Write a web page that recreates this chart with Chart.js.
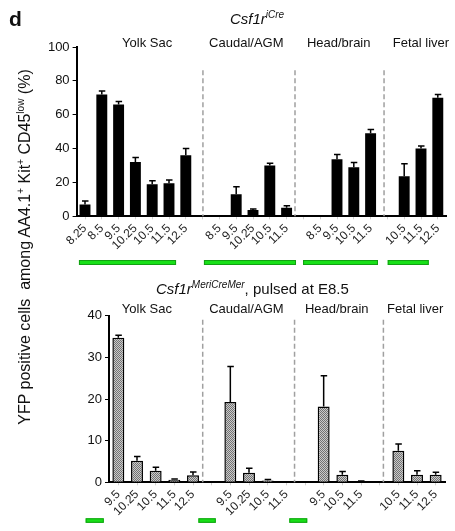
<!DOCTYPE html>
<html>
<head>
<meta charset="utf-8">
<script src="https://cdn.jsdelivr.net/npm/chart.js@4.4.1/dist/chart.umd.min.js"></script>
<style>
  body { margin: 0; background: #fff; }
  #wrap { position: relative; width: 455px; height: 531px; font-family: "Liberation Sans", Arial, sans-serif; color: #111; }
  #topChart { position: absolute; left: 0; top: 0; }
  #bottomChart { position: absolute; left: 0; top: 272px; }
  #panel { position: absolute; left: 9px; top: 8px; font-weight: bold; font-size: 21px; line-height: 21px; }
  #ytitle { position: absolute; left: -185px; top: 237px; width: 420px; height: 20px; line-height: 20px;
            text-align: center; font-size: 16px; white-space: nowrap; transform: rotate(-90deg); }
  #ytitle sup { font-size: 10px; vertical-align: 6px; line-height: 0; }
</style>
</head>
<body>
<div id="wrap">
  <canvas id="topChart" width="455" height="272"></canvas>
  <canvas id="bottomChart" width="455" height="259"></canvas>
  <div id="panel">d</div>
  <div id="ytitle">YFP positive cells &nbsp;among AA4.1<sup>+</sup> Kit<sup>+</sup> CD45<sup>low</sup> (%)</div>
</div>
<script>
// ---- Data: Csf1r iCre (top panel) ----
const topLabels = ['8.25','8.5','9.5','10.25','10.5','11.5','12.5','',
                   '8.5','9.5','10.25','10.5','11.5','',
                   '8.5','9.5','10.5','11.5','',
                   '10.5','11.5','12.5'];
const topValues = [7, 72, 66, 32, 19, 19.5, 36, null,
                   0, 13, 3.7, 30, 5, null,
                   0, 33.7, 29, 49, null,
                   23.7, 40, 70];
const topErrors = [2, 2, 1.8, 2.7, 2, 2, 4, null,
                   0, 4.5, 0.6, 1.4, 1.2, null,
                   0, 2.8, 2.8, 2.2, null,
                   7.3, 1.5, 2];
const topTicks = [0, 20, 40, 60, 80, 100];

// ---- Data: Csf1r MeriCreMer, pulsed at E8.5 (bottom panel) ----
const bottomLabels = ['9.5','10.25','10.5','11.5','12.5','',
                      '9.5','10.25','10.5','11.5','',
                      '9.5','10.5','11.5','',
                      '10.5','11.5','12.5'];
const bottomValues = [34.7, 5.2, 2.8, 0.6, 1.7, null,
                      19.3, 2.3, 0.45, 0, null,
                      18.2, 1.8, 0.2, null,
                      7.6, 1.8, 1.8];
const bottomErrors = [0.6, 1.0, 0.8, 0.2, 0.8, null,
                      8.5, 1.1, 0.25, 0, null,
                      7.4, 0.8, 0.1, null,
                      1.6, 1.0, 0.6];
const bottomTicks = [0, 10, 20, 30, 40];

// Tissue groups, separators and green time bars (in category units)
const groupNames = ['Yolk Sac', 'Caudal/AGM', 'Head/brain', 'Fetal liver'];
const topGroupPos = [3.7, 9.6, 15.1, 20];
const bottomGroupPos = [1.53, 6.86, 11.7, 15.9];
const topSeparators = [7.02, 12.5, 17.8];
const bottomSeparators = [4.52, 9.44, 14.2];
const topGreen = [[-0.36, 5.42], [7.08, 12.56], [12.98, 17.44], [18.02, 20.46]];
const bottomGreen = [[-1.75, -0.78], [4.29, 5.22], [9.16, 10.12]];

const FONT = '"Liberation Sans", Arial, sans-serif';

function px(scale, v) {
    // category scale accepts fractional indexes
    return scale.getPixelForValue(v);
}

// draws error bars, separators, group labels, green bars and title
function makeDecor(opt) {
    return {
        id: 'decor',
        afterDatasetsDraw: function(chart) {
            let ctx = chart.ctx;
            let ys = chart.scales.y;
            let meta = chart.getDatasetMeta(0);
            ctx.save();
            ctx.strokeStyle = '#000';
            ctx.lineWidth = 1.5;
            opt.values.forEach(function(v, i) {
                let e = opt.errors[i];
                if (v === null || !e) return;
                let x = meta.data[i].x;
                let y0 = ys.getPixelForValue(v);
                let y1 = ys.getPixelForValue(v + e);
                ctx.beginPath();
                ctx.moveTo(x, y0);
                ctx.lineTo(x, y1);
                ctx.moveTo(x - 3, y1);
                ctx.lineTo(x + 3.5, y1);
                ctx.stroke();
            });
            ctx.restore();
        },
        afterDraw: function(chart) {
            let ctx = chart.ctx;
            let xs = chart.scales.x, ys = chart.scales.y;
            ctx.save();
            // dashed separators
            ctx.strokeStyle = '#a0a0a0';
            ctx.lineWidth = 1.5;
            ctx.setLineDash([5, 3]);
            opt.separators.forEach(function(s) {
                let x = px(xs, s);
                ctx.beginPath();
                ctx.moveTo(x, ys.getPixelForValue(opt.sepTop));
                ctx.lineTo(x, ys.getPixelForValue(0));
                ctx.stroke();
            });
            ctx.setLineDash([]);

            // green bars
            ctx.fillStyle = '#18e018';
            ctx.strokeStyle = '#12a012';
            ctx.lineWidth = 1;
            opt.green.forEach(function(g) {
                let a = px(xs, g[0]), b = px(xs, g[1]);
                ctx.fillRect(a, opt.greenY, b - a, opt.greenH);
                ctx.strokeRect(a + 0.5, opt.greenY + 0.5, b - a - 1, opt.greenH - 1);
            });

            // group names
            ctx.fillStyle = '#111';
            ctx.font = '13px ' + FONT;
            ctx.textAlign = 'center';
            ctx.textBaseline = 'alphabetic';
            groupNames.forEach(function(name, i) {
                ctx.fillText(name, px(xs, opt.groupPos[i]), opt.groupY);
            });

            // title with superscript
            ctx.textAlign = 'left';
            let x = opt.titleX;
            opt.title.forEach(function(part) {
                ctx.font = part.font;
                ctx.fillText(part.t, x, opt.titleY + (part.dy || 0));
                x += ctx.measureText(part.t).width;
            });
            ctx.restore();
        }
    };
}

function makeChart(id, cfg) {
    return new Chart(document.getElementById(id), {
        type: 'bar',
        data: {
            labels: cfg.labels,
            datasets: [{
                data: cfg.values,
                backgroundColor: cfg.fill,
                borderColor: '#000',
                borderWidth: cfg.border,
                borderSkipped: 'start',
                categoryPercentage: 1,
                barPercentage: cfg.barPct
            }]
        },
        options: {
            responsive: false,
            animation: false,
            events: [],
            layout: { padding: cfg.padding },
            plugins: { legend: { display: false }, tooltip: { enabled: false }, title: { display: false } },
            scales: {
                x: {
                    offset: true,
                    border: { color: '#000', width: 2 },
                    grid: { offset: false, drawOnChartArea: false, tickLength: 3, tickColor: '#d0d0d0' },
                    ticks: {
                        autoSkip: false, maxRotation: 45, minRotation: 45,
                        padding: 2, color: '#222',
                        font: { family: FONT, size: 12 }
                    },
                    afterFit: function(s) { s.height = cfg.xHeight; }
                },
                y: {
                    min: 0,
                    max: cfg.ticks[cfg.ticks.length - 1],
                    afterBuildTicks: function(s) { s.ticks = cfg.ticks.map(v => ({ value: v })); },
                    border: { color: '#000', width: 2 },
                    grid: { drawOnChartArea: false, tickLength: 4, tickColor: '#000' },
                    ticks: { padding: 3, color: '#111', font: { family: FONT, size: 13 } },
                    afterFit: function(s) { s.width = cfg.yWidth; }
                }
            }
        },
        plugins: [makeDecor(cfg)]
    });
}

// Main

let topChart = makeChart('topChart', {
    labels: topLabels, values: topValues, errors: topErrors, ticks: topTicks,
    fill: '#000', border: 0, barPct: 0.65,
    padding: { left: 0, right: 8.8, top: 47, bottom: 0 },
    yWidth: 76.6, xHeight: 272 - 216.3,
    separators: topSeparators, sepTop: 86.3,
    groupPos: topGroupPos, groupY: 46.5,
    green: topGreen, greenY: 260, greenH: 5,
    titleX: 230, titleY: 23.5,
    title: [
        { t: 'Csf1r', font: 'italic 15px ' + FONT },
        { t: 'iCre', font: 'italic 10px ' + FONT, dy: -6 }
    ]
});

let bctx = document.getElementById('bottomChart').getContext('2d');
let tile = document.createElement('canvas');
tile.width = 2; tile.height = 2;
let tctx = tile.getContext('2d');
tctx.fillStyle = '#cacaca'; tctx.fillRect(0, 0, 2, 2);
tctx.fillStyle = '#727272'; tctx.fillRect(0, 0, 1, 1); tctx.fillRect(1, 1, 1, 1);
let dotted = bctx.createPattern(tile, 'repeat');

let bottomChart = makeChart('bottomChart', {
    labels: bottomLabels, values: bottomValues, errors: bottomErrors, ticks: bottomTicks,
    fill: dotted, border: 1.5, barPct: 0.64,
    padding: { left: 0, right: 10, top: 43.7, bottom: 0 },
    yWidth: 109, xHeight: 259 - 210.3,
    separators: bottomSeparators, sepTop: 39,
    groupPos: bottomGroupPos, groupY: 40.5,
    green: bottomGreen, greenY: 246.3, greenH: 4.5,
    titleX: 156, titleY: 22,
    title: [
        { t: 'Csf1r', font: 'italic 15px ' + FONT },
        { t: 'MeriCreMer', font: 'italic 10px ' + FONT, dy: -6 },
        { t: ', pulsed at E8.5', font: '15px ' + FONT }
    ]
});
</script>
</body>
</html>
